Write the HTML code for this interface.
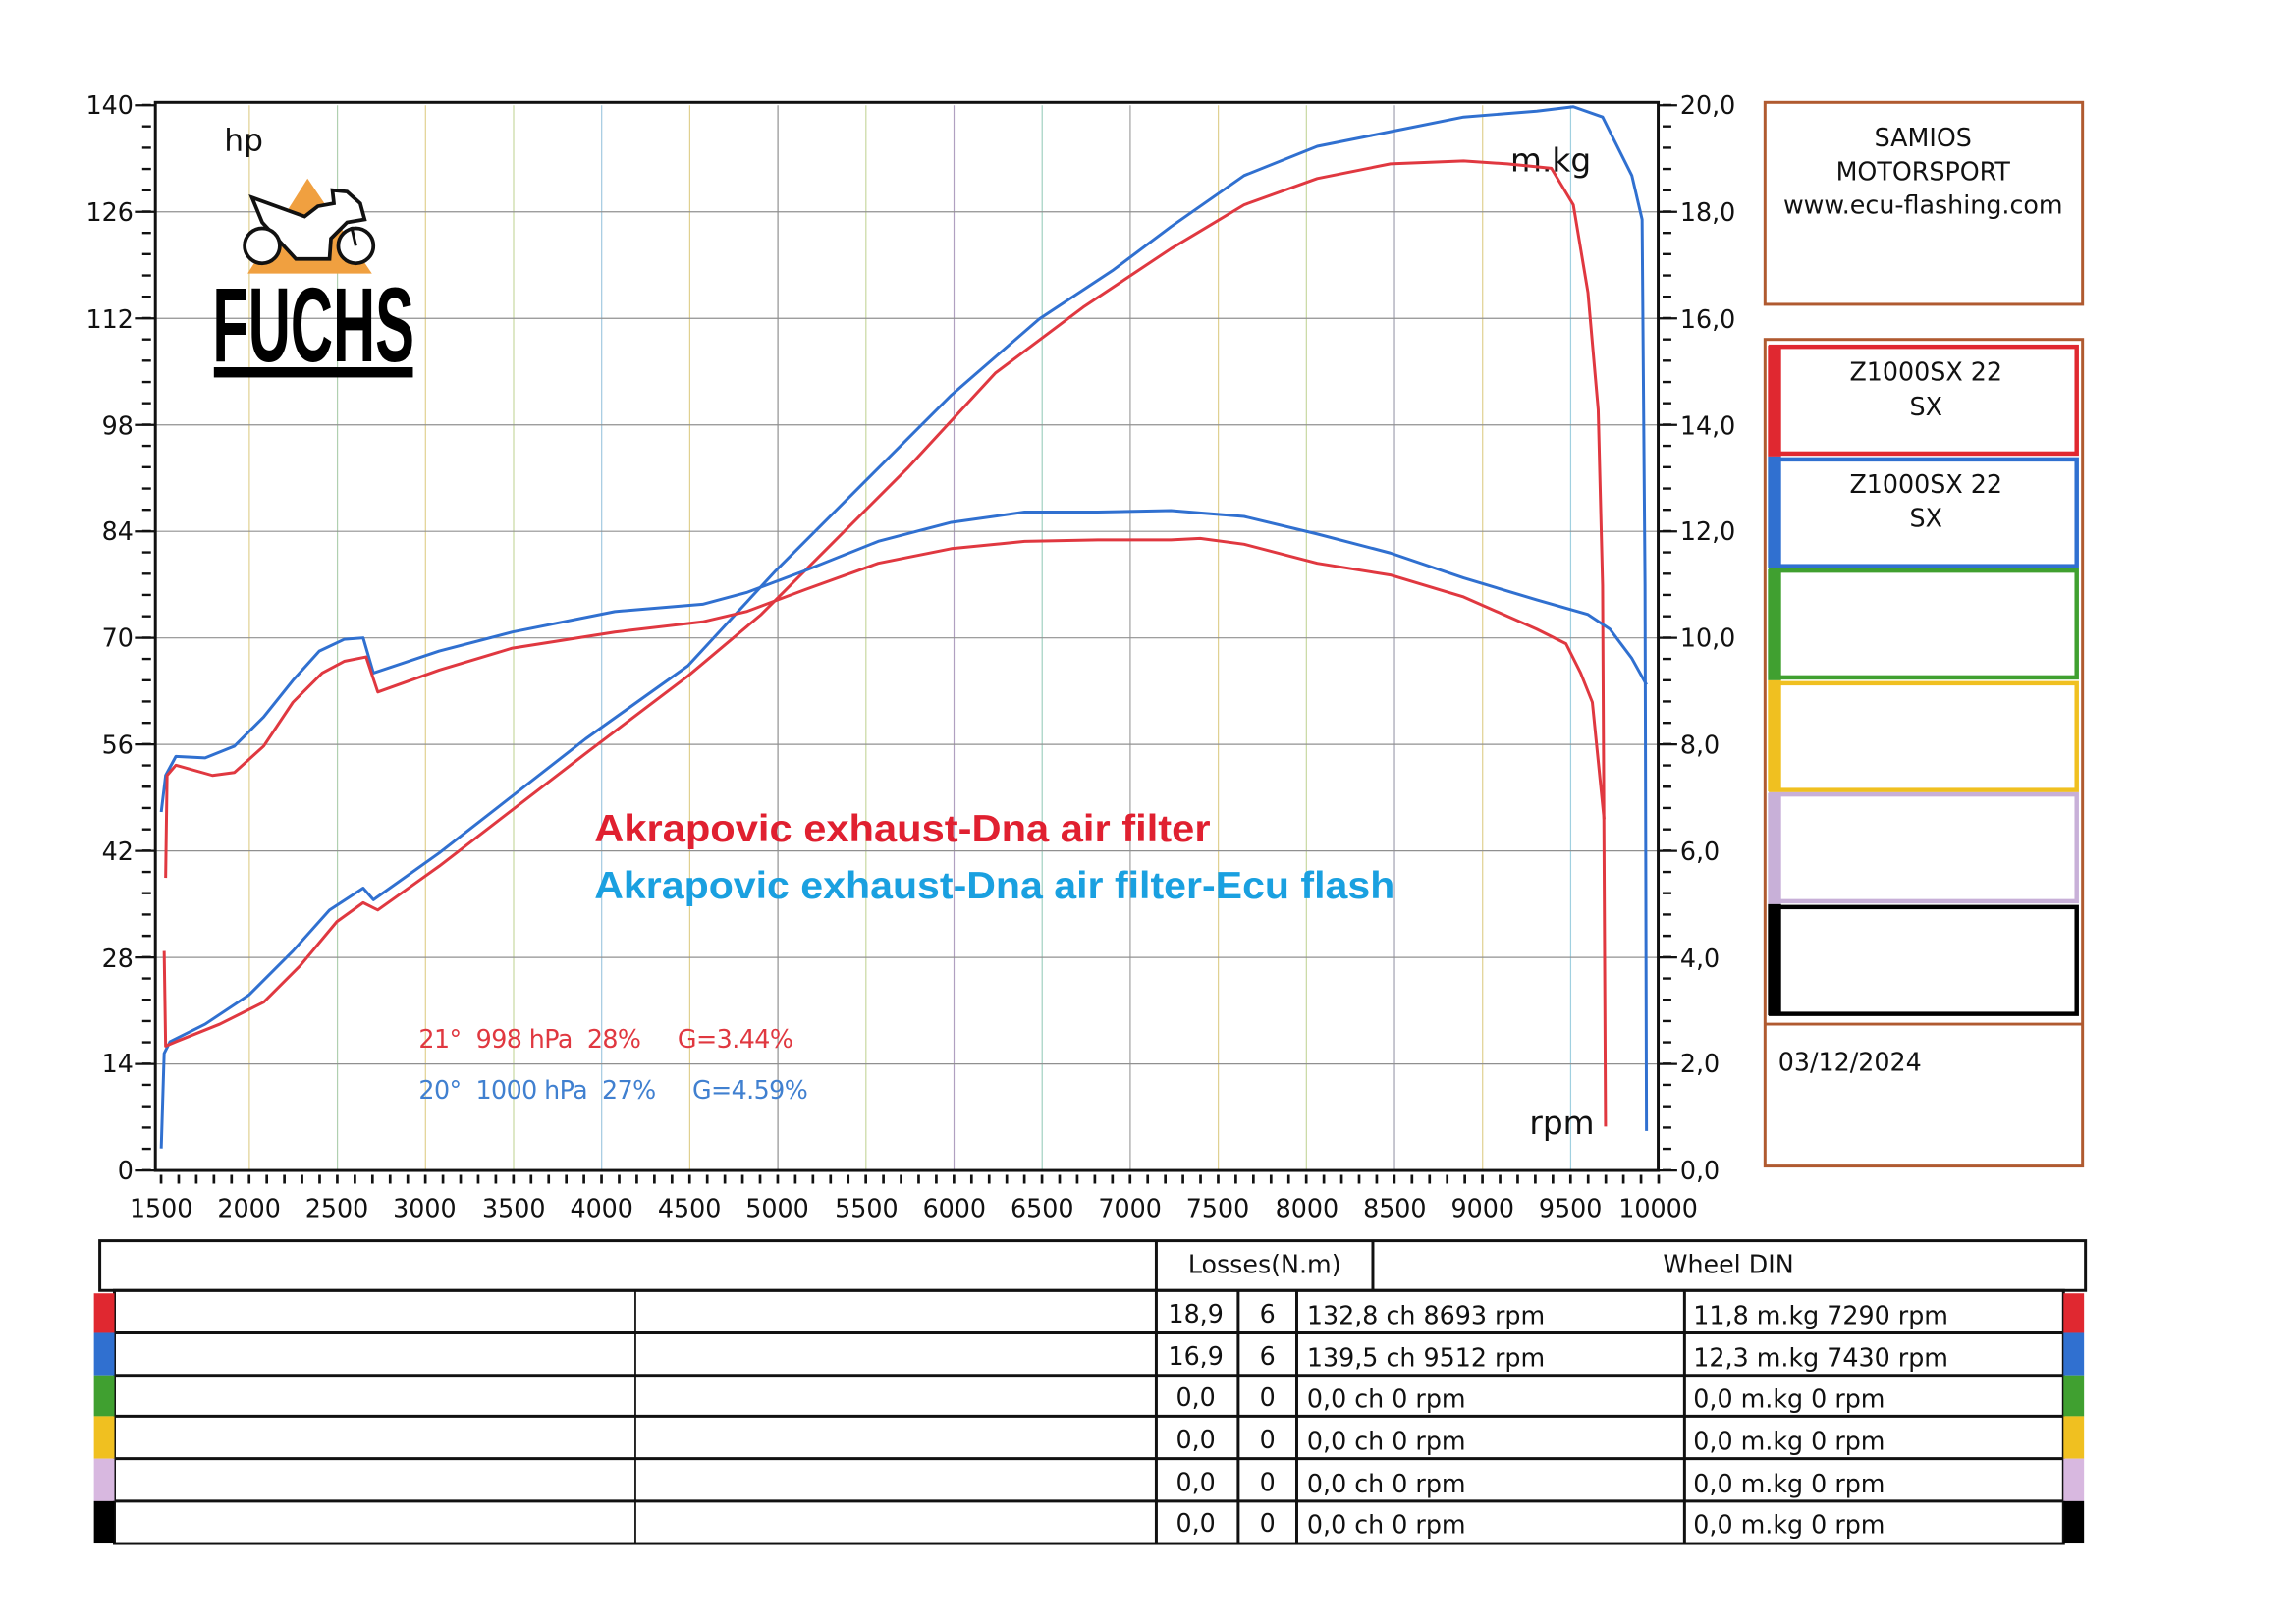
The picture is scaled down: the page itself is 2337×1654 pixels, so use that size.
<!DOCTYPE html>
<html><head><meta charset="utf-8"><style>
html,body{margin:0;padding:0;background:#fff;}
svg{display:block;}
text{font-family:"DejaVu Sans","Liberation Sans",sans-serif;}
text.lib{font-family:"Liberation Sans",sans-serif;}
</style></head><body>
<svg width="2337" height="1654" viewBox="0 0 1568 1110" xmlns="http://www.w3.org/2000/svg">
<rect width="1568" height="1110" fill="#fff"/>
<g stroke-width="0.8">
<line x1="170.2" y1="72" x2="170.2" y2="800" stroke="#e0d090"/>
<line x1="230.4" y1="72" x2="230.4" y2="800" stroke="#b0d0b0"/>
<line x1="290.6" y1="72" x2="290.6" y2="800" stroke="#e0d090"/>
<line x1="350.8" y1="72" x2="350.8" y2="800" stroke="#c8d8a0"/>
<line x1="411" y1="72" x2="411" y2="800" stroke="#a0c8e0"/>
<line x1="471.2" y1="72" x2="471.2" y2="800" stroke="#e0d090"/>
<line x1="531.4" y1="72" x2="531.4" y2="800" stroke="#909090"/>
<line x1="591.6" y1="72" x2="591.6" y2="800" stroke="#c8d8a0"/>
<line x1="651.8" y1="72" x2="651.8" y2="800" stroke="#b0a0c0"/>
<line x1="712" y1="72" x2="712" y2="800" stroke="#a0d0c0"/>
<line x1="772.2" y1="72" x2="772.2" y2="800" stroke="#a0a0a0"/>
<line x1="832.4" y1="72" x2="832.4" y2="800" stroke="#e0d090"/>
<line x1="892.6" y1="72" x2="892.6" y2="800" stroke="#c8d8a0"/>
<line x1="952.8" y1="72" x2="952.8" y2="800" stroke="#a0a0b0"/>
<line x1="1013" y1="72" x2="1013" y2="800" stroke="#e0d090"/>
<line x1="1073.2" y1="72" x2="1073.2" y2="800" stroke="#a0d0e0"/>
</g>
<g stroke="#909090" stroke-width="0.8">
<line x1="106" y1="144.8" x2="1133" y2="144.8"/>
<line x1="106" y1="217.6" x2="1133" y2="217.6"/>
<line x1="106" y1="290.4" x2="1133" y2="290.4"/>
<line x1="106" y1="363.2" x2="1133" y2="363.2"/>
<line x1="106" y1="436" x2="1133" y2="436"/>
<line x1="106" y1="508.8" x2="1133" y2="508.8"/>
<line x1="106" y1="581.6" x2="1133" y2="581.6"/>
<line x1="106" y1="654.4" x2="1133" y2="654.4"/>
<line x1="106" y1="727.2" x2="1133" y2="727.2"/>
</g>
<rect x="106" y="70" width="1027" height="730" fill="none" stroke="#111" stroke-width="2"/>
<line x1="100" y1="71" x2="100" y2="801" stroke="#111" stroke-width="6" stroke-dasharray="1.6 12.96"/>
<g stroke="#111" stroke-width="1.5">
<line x1="92" y1="72" x2="106" y2="72"/><line x1="92" y1="144.8" x2="106" y2="144.8"/><line x1="92" y1="217.6" x2="106" y2="217.6"/><line x1="92" y1="290.4" x2="106" y2="290.4"/><line x1="92" y1="363.2" x2="106" y2="363.2"/><line x1="92" y1="436" x2="106" y2="436"/><line x1="92" y1="508.8" x2="106" y2="508.8"/><line x1="92" y1="581.6" x2="106" y2="581.6"/><line x1="92" y1="654.4" x2="106" y2="654.4"/><line x1="92" y1="727.2" x2="106" y2="727.2"/><line x1="92" y1="800" x2="106" y2="800"/>
</g>
<line x1="1139" y1="71" x2="1139" y2="801" stroke="#111" stroke-width="6" stroke-dasharray="1.6 12.96"/>
<g stroke="#111" stroke-width="1.5">
<line x1="1133" y1="72" x2="1146" y2="72"/><line x1="1133" y1="144.8" x2="1146" y2="144.8"/><line x1="1133" y1="217.6" x2="1146" y2="217.6"/><line x1="1133" y1="290.4" x2="1146" y2="290.4"/><line x1="1133" y1="363.2" x2="1146" y2="363.2"/><line x1="1133" y1="436" x2="1146" y2="436"/><line x1="1133" y1="508.8" x2="1146" y2="508.8"/><line x1="1133" y1="581.6" x2="1146" y2="581.6"/><line x1="1133" y1="654.4" x2="1146" y2="654.4"/><line x1="1133" y1="727.2" x2="1146" y2="727.2"/><line x1="1133" y1="800" x2="1146" y2="800"/>
</g>
<line x1="109" y1="806" x2="1135" y2="806" stroke="#111" stroke-width="6" stroke-dasharray="1.8 10.24"/>
<g font-size="17" text-anchor="end" fill="#111">
<text x="91" y="78">140</text><text x="91" y="151">126</text><text x="91" y="224">112</text><text x="91" y="297">98</text><text x="91" y="369">84</text><text x="91" y="442">70</text><text x="91" y="515">56</text><text x="91" y="588">42</text><text x="91" y="661">28</text><text x="91" y="733">14</text><text x="91" y="806">0</text>
</g>
<g font-size="17" fill="#111">
<text x="1148" y="78">20,0</text><text x="1148" y="151">18,0</text><text x="1148" y="224">16,0</text><text x="1148" y="297">14,0</text><text x="1148" y="369">12,0</text><text x="1148" y="442">10,0</text><text x="1148" y="515">8,0</text><text x="1148" y="588">6,0</text><text x="1148" y="661">4,0</text><text x="1148" y="733">2,0</text><text x="1148" y="806">0,0</text>
</g>
<g font-size="17" text-anchor="middle" fill="#111">
<text x="110" y="832">1500</text><text x="170" y="832">2000</text><text x="230" y="832">2500</text><text x="290" y="832">3000</text><text x="351" y="832">3500</text><text x="411" y="832">4000</text><text x="471" y="832">4500</text><text x="531" y="832">5000</text><text x="592" y="832">5500</text><text x="652" y="832">6000</text><text x="712" y="832">6500</text><text x="772" y="832">7000</text><text x="832" y="832">7500</text><text x="893" y="832">8000</text><text x="953" y="832">8500</text><text x="1013" y="832">9000</text><text x="1073" y="832">9500</text><text x="1133" y="832">10000</text>
</g>
<text x="153" y="103" font-size="21" fill="#111">hp</text>
<text x="1032" y="117" font-size="22" fill="#111">m.kg</text>
<text x="1045" y="775" font-size="22" fill="#111">rpm</text>
<!-- logo -->
<polygon points="210,122 169,187 254,187" fill="#f0a040"/>
<path d="M172,135 L208,148 L217,141 L228,139 L227,130 L237,131 L246,139 L249,150 L237,152 L226,163 L225,177 L202,177 L179,152 Z" fill="#fff" stroke="#111" stroke-width="2.5"/>
<circle cx="179" cy="168" r="12" fill="#fff" stroke="#111" stroke-width="2.5"/>
<circle cx="243" cy="168" r="12" fill="#fff" stroke="#111" stroke-width="2.5"/>
<line x1="240" y1="155" x2="243" y2="168" stroke="#111" stroke-width="2"/>
<text class="lib" x="145" y="247" font-size="72" font-weight="bold" fill="#000" textLength="138" lengthAdjust="spacingAndGlyphs">FUCHS</text>
<rect x="146" y="251" width="136" height="7" fill="#000"/>
<g fill="none" stroke-width="2" stroke-linejoin="round">
<polyline stroke="#3070d0" points="110,785 112,720 116,712 140,700 170,680 200,650 225,622 248,607 255,615 300,583 400,505 470,455 530,390 600,320 650,270 710,218 760,185 800,155 850,120 900,100 950,90 1000,80 1050,76 1075,73 1095,80 1115,120 1122,150 1124,400 1125,773"/>
<polyline stroke="#e03840" points="112,650 113,715 120,712 150,700 180,685 205,660 230,630 248,617 258,622 300,592 400,515 470,462 520,420 570,370 620,320 680,255 740,210 800,170 850,140 900,122 950,112 1000,110 1030,112 1060,115 1075,140 1085,200 1092,280 1095,400 1097,770"/>
<polyline stroke="#3070d0" points="110,555 113,530 120,517 140,518 160,510 180,490 200,465 218,445 235,437 248,436 255,460 300,445 350,432 420,418 480,413 510,405 550,390 600,370 650,357 700,350 750,350 800,349 850,353 900,365 950,378 1000,395 1050,410 1085,420 1100,430 1115,450 1125,468"/>
<polyline stroke="#e03840" points="113,600 114,530 120,523 145,530 160,528 180,510 200,480 220,460 235,452 250,449 258,473 300,458 350,443 420,432 480,425 510,418 550,403 600,385 650,375 700,370 750,369 800,369 820,368 850,372 900,385 950,393 1000,408 1050,430 1070,440 1080,460 1088,480 1093,530 1096,560"/>
</g>
<text class="lib" x="406" y="575" font-size="26" font-weight="bold" fill="#e02030" textLength="421" lengthAdjust="spacingAndGlyphs">Akrapovic exhaust-Dna air filter</text>
<text class="lib" x="406" y="614" font-size="26" font-weight="bold" fill="#1aa0e0" textLength="547" lengthAdjust="spacingAndGlyphs">Akrapovic exhaust-Dna air filter-Ecu flash</text>
<text x="286" y="716" font-size="17" fill="#e03840" textLength="256" xml:space="preserve">21°  998 hPa  28%     G=3.44%</text>
<text x="286" y="751" font-size="17" fill="#4080d0" textLength="266" xml:space="preserve">20°  1000 hPa  27%     G=4.59%</text>
<rect x="1206" y="70" width="217" height="138" fill="none" stroke="#b05a30" stroke-width="2"/>
<g font-size="17" text-anchor="middle" fill="#111">
<text x="1314" y="100">SAMIOS</text><text x="1314" y="123">MOTORSPORT</text><text x="1314" y="146">www.ecu-flashing.com</text>
</g>
<rect x="1206" y="232" width="217" height="565" fill="none" stroke="#b05a30" stroke-width="2"/>
<g stroke-width="3" fill="#fff">
<rect x="1210" y="237" width="209" height="73" stroke="#e02830"/>
<rect x="1210" y="314" width="209" height="73" stroke="#3070d0"/>
<rect x="1210" y="390" width="209" height="73" stroke="#40a030"/>
<rect x="1210" y="467" width="209" height="73" stroke="#f0c020"/>
<rect x="1210" y="543" width="209" height="73" stroke="#c8b0d8"/>
<rect x="1210" y="620" width="209" height="73" stroke="#000"/>
</g>
<rect x="1208" y="236" width="9" height="76" fill="#e02830"/>
<rect x="1208" y="312" width="9" height="76" fill="#3070d0"/>
<rect x="1208" y="389" width="9" height="76" fill="#40a030"/>
<rect x="1208" y="465" width="9" height="76" fill="#f0c020"/>
<rect x="1208" y="542" width="9" height="76" fill="#c8b0d8"/>
<rect x="1208" y="618" width="9" height="76" fill="#000"/>
<line x1="1206" y1="700" x2="1423" y2="700" stroke="#b05a30" stroke-width="2"/>
<g font-size="17" text-anchor="middle" fill="#111">
<text x="1316" y="260">Z1000SX 22</text><text x="1316" y="284">SX</text>
<text x="1316" y="337">Z1000SX 22</text><text x="1316" y="360">SX</text>
</g>
<text x="1215" y="732" font-size="17" fill="#111">03/12/2024</text>
<g stroke="#111" stroke-width="2" fill="none">
<rect x="68" y="848" width="1357" height="34"/>
<line x1="790" y1="848" x2="790" y2="882"/><line x1="938" y1="848" x2="938" y2="882"/>
<rect x="78" y="882" width="1332" height="173"/>
<line x1="78" y1="911" x2="1410" y2="911"/><line x1="78" y1="940" x2="1410" y2="940"/><line x1="78" y1="968" x2="1410" y2="968"/><line x1="78" y1="997" x2="1410" y2="997"/><line x1="78" y1="1026" x2="1410" y2="1026"/>
<line x1="434" y1="882" x2="434" y2="1055" stroke-width="1.2"/><line x1="790" y1="882" x2="790" y2="1055"/><line x1="846" y1="882" x2="846" y2="1055"/><line x1="886" y1="882" x2="886" y2="1055"/><line x1="1151" y1="882" x2="1151" y2="1055"/>
</g>
<g>
<rect x="64" y="884" width="14" height="27" fill="#e02830"/><rect x="1410" y="884" width="14" height="27" fill="#e02830"/>
<rect x="64" y="911" width="14" height="29" fill="#3070d0"/><rect x="1410" y="911" width="14" height="29" fill="#3070d0"/>
<rect x="64" y="940" width="14" height="28" fill="#40a030"/><rect x="1410" y="940" width="14" height="28" fill="#40a030"/>
<rect x="64" y="968" width="14" height="29" fill="#f0c020"/><rect x="1410" y="968" width="14" height="29" fill="#f0c020"/>
<rect x="64" y="997" width="14" height="29" fill="#d8b8e0"/><rect x="1410" y="997" width="14" height="29" fill="#d8b8e0"/>
<rect x="64" y="1026" width="14" height="29" fill="#000"/><rect x="1410" y="1026" width="14" height="29" fill="#000"/>
</g>
<g font-size="17" fill="#111">
<text x="864" y="870" text-anchor="middle">Losses(N.m)</text>
<text x="1181" y="870" text-anchor="middle">Wheel DIN</text>
<g text-anchor="middle">
<text x="817" y="904">18,9</text><text x="866" y="904">6</text>
<text x="817" y="933">16,9</text><text x="866" y="933">6</text>
<text x="817" y="961">0,0</text><text x="866" y="961">0</text>
<text x="817" y="990">0,0</text><text x="866" y="990">0</text>
<text x="817" y="1019">0,0</text><text x="866" y="1019">0</text>
<text x="817" y="1047">0,0</text><text x="866" y="1047">0</text>
</g>
<text x="893" y="905">132,8 ch 8693 rpm</text><text x="1157" y="905">11,8 m.kg 7290 rpm</text>
<text x="893" y="934">139,5 ch 9512 rpm</text><text x="1157" y="934">12,3 m.kg 7430 rpm</text>
<text x="893" y="962">0,0 ch 0 rpm</text><text x="1157" y="962">0,0 m.kg 0 rpm</text>
<text x="893" y="991">0,0 ch 0 rpm</text><text x="1157" y="991">0,0 m.kg 0 rpm</text>
<text x="893" y="1020">0,0 ch 0 rpm</text><text x="1157" y="1020">0,0 m.kg 0 rpm</text>
<text x="893" y="1048">0,0 ch 0 rpm</text><text x="1157" y="1048">0,0 m.kg 0 rpm</text>
</g>
</svg>
</body></html>
